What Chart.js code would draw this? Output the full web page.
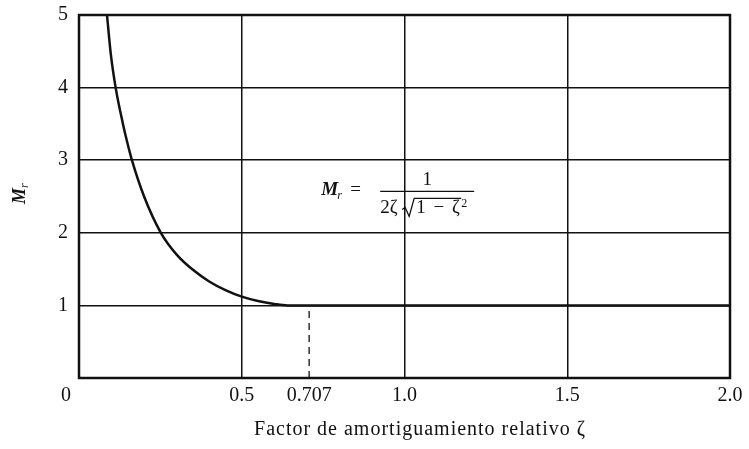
<!DOCTYPE html>
<html lang="es">
<head>
  <meta charset="UTF-8">
  <title>Mr vs factor de amortiguamiento</title>
  <style>
    * { margin: 0; padding: 0; box-sizing: border-box; }
    body { background: #ffffff; width: 749px; height: 449px; overflow: hidden; }
    canvas { display: block; }
  </style>
  <script src="https://cdn.jsdelivr.net/npm/chart.js@4.4.1/dist/chart.umd.min.js"></script>
</head>
<body>
  <canvas id="mrChart" width="749" height="449"></canvas>

  <script>
    // valores
    const zeta = [0.086, 0.098, 0.1126, 0.135, 0.148, 0.1626, 0.20, 0.2515, 0.30, 0.35, 0.40, 0.45, 0.50, 0.55, 0.60, 0.64, 0.707, 1.0, 1.5, 2.0];
    const mr   = [5.0,   4.45,  4.0,    3.5,   3.25,  3.0,    2.5,  2.0,    1.70, 1.49, 1.33, 1.21, 1.12, 1.06, 1.02, 1.0,  1.0,   1.0, 1.0, 1.0];

    const markZeta = [0.707, 0.707];
    const markMr = [0, 1];

    const xTicks = [0, 0.5, 0.707, 1.0, 1.5, 2.0];
    const xTickLabels = ['0', '0.5', '0.707', '1.0', '1.5', '2.0'];
    const yTicks = [1, 2, 3, 4, 5];
    const yTickLabels = ['1', '2', '3', '4', '5'];

    const xTitle = 'Factor de amortiguamiento relativo ζ';
    const serif = '"Liberation Serif", "DejaVu Serif", serif';
    const ink = '#111111';

    // marco, etiquetas y formula
    const textPlugin = {
      id: 'textPlugin',
      afterDraw(chart) {
        const c = chart.ctx;
        const a = chart.chartArea;
        const xs = chart.scales.x;
        const ys = chart.scales.y;
        c.save();

        c.strokeStyle = ink;
        c.lineWidth = 2.5;
        c.strokeRect(a.left, a.top, a.right - a.left, a.bottom - a.top);

        c.fillStyle = ink;
        c.font = '20px ' + serif;
        c.textBaseline = 'middle';
        xTicks.forEach((v, i) => {
          const px = xs.getPixelForValue(v);
          if (v === 0) {
            c.textAlign = 'right';
            c.fillText(xTickLabels[i], px - 8, a.bottom + 18);
          } else {
            c.textAlign = 'center';
            c.fillText(xTickLabels[i], px, a.bottom + 18);
          }
        });
        c.textAlign = 'right';
        yTicks.forEach((v, i) => {
          c.fillText(yTickLabels[i], a.left - 11, ys.getPixelForValue(v));
        });

        c.textAlign = 'center';
        c.letterSpacing = '1px';
        c.fillText(xTitle, 420, 430);
        c.letterSpacing = '0px';

        // M_r vertical
        c.save();
        c.translate(20, 194);
        c.rotate(-Math.PI / 2);
        c.textAlign = 'left';
        c.font = 'italic bold 18px ' + serif;
        c.fillText('M', -10, 0);
        c.font = 'italic 12px ' + serif;
        c.fillText('r', 6, 5);
        c.restore();

        // formula M_r = 1 / (2ζ sqrt(1 - ζ²))
        const fx = xs.getPixelForValue(0.744);
        const barY = ys.getPixelForValue(2.57);
        c.textAlign = 'left';
        c.font = 'italic bold 19px ' + serif;
        c.fillText('M', fx, barY - 1);
        c.font = 'italic 12px ' + serif;
        c.fillText('r', fx + 16, barY + 4);
        c.font = '19px ' + serif;
        c.fillText('=', fx + 29, barY - 1);

        const barL = fx + 59, barR = fx + 153;
        c.lineWidth = 1.3;
        c.beginPath();
        c.moveTo(barL, barY);
        c.lineTo(barR, barY);
        c.stroke();
        c.textAlign = 'center';
        c.fillText('1', (barL + barR) / 2, barY - 11);

        c.textAlign = 'left';
        const dy = barY + 17;
        c.fillText('2ζ', barL, dy);
        const r0 = barL + 22;
        const inner = '1 − ζ';
        const innerX = r0 + 14;
        c.letterSpacing = '1.5px';
        const innerW = c.measureText(inner).width;
        c.lineWidth = 1.3;
        c.beginPath();
        c.moveTo(r0, dy + 1);
        c.lineTo(r0 + 3, dy - 1);
        c.lineTo(r0 + 7, dy + 8);
        c.lineTo(r0 + 12, dy - 10);
        c.lineTo(innerX + innerW, dy - 10);
        c.stroke();
        c.fillText(inner, innerX, dy);
        c.letterSpacing = '0px';
        c.font = '12px ' + serif;
        c.fillText('2', innerX + innerW, dy - 5);

        c.restore();
      }
    };

    const ctx = document.getElementById('mrChart').getContext('2d');
    const mrChart = new Chart(ctx, {
      type: 'scatter',
      data: {
        datasets: [
          {
            data: zeta.map((z, i) => ({ x: z, y: mr[i] })),
            showLine: true,
            borderColor: ink,
            borderWidth: 2.5,
            pointRadius: 0,
            cubicInterpolationMode: 'monotone',
            fill: false
          },
          {
            data: markZeta.map((z, i) => ({ x: z, y: markMr[i] })),
            showLine: true,
            borderColor: ink,
            borderWidth: 1.3,
            borderDash: [7, 5],
            pointRadius: 0,
            fill: false
          }
        ]
      },
      options: {
        responsive: false,
        animation: false,
        layout: { padding: { left: 79, right: 19, top: 15, bottom: 71 } },
        plugins: {
          legend: { display: false },
          tooltip: { enabled: false }
        },
        scales: {
          x: {
            type: 'linear',
            min: 0,
            max: 2,
            ticks: { display: false, stepSize: 0.5 },
            grid: { color: ink, lineWidth: 1.5, drawTicks: false },
            border: { display: false }
          },
          y: {
            min: 0,
            max: 5,
            ticks: { display: false, stepSize: 1 },
            grid: { color: ink, lineWidth: 1.5, drawTicks: false },
            border: { display: false }
          }
        }
      },
      plugins: [textPlugin]
    });
  </script>
</body>
</html>
